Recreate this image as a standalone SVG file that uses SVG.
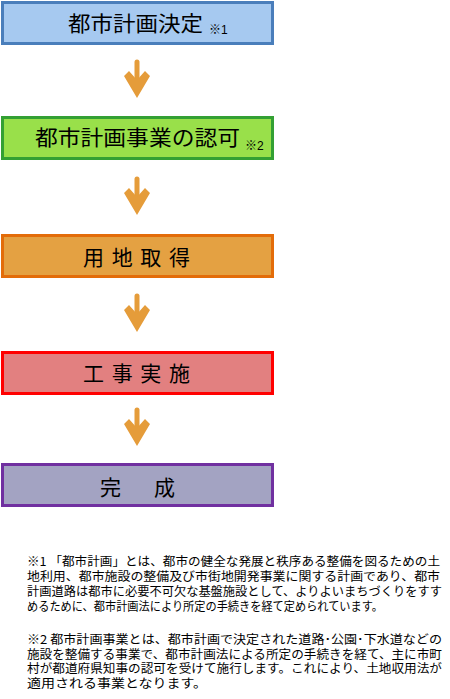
<svg xmlns="http://www.w3.org/2000/svg" width="450" height="699" viewBox="0 0 450 699">
<style>
.box{stroke-width:3}
.lbl{font-family:"Noto Sans CJK JP","Noto Sans",sans-serif;font-size:21px;fill:#000}
.sm{font-family:"Liberation Sans","Noto Sans CJK JP",sans-serif;font-size:12px;fill:#000}
.note{font-family:"Noto Sans CJK JP","Noto Sans",sans-serif;font-size:12px;fill:#000}
.shaft{stroke:#e59c3a;stroke-width:5;stroke-linecap:round;fill:none}
.head{fill:#e59c3a}
</style>
<defs>
<g id="arrow">
<line class="shaft" x1="137" y1="62" x2="137" y2="88"/>
<polygon class="head" points="124,76 129,71 137,80 145,71 150,76 137,98"/>
</g>
</defs>
<g id="connectors">
<use href="#arrow"/>
<use href="#arrow" transform="translate(0,117)"/>
<use href="#arrow" transform="translate(0,234)"/>
<use href="#arrow" transform="translate(0,348)"/>
</g>
<g id="node1">
<rect class="box" x="2.5" y="2.5" width="270" height="41" fill="#a6c9f0" stroke="#4a7ebb"/>
<text class="lbl" x="68" y="31" textLength="135" lengthAdjust="spacingAndGlyphs">都市計画決定</text>
<text class="sm" x="209" y="34">※1</text>
</g>
<g id="node2">
<rect class="box" x="2.5" y="117.5" width="270" height="41" fill="#99e04a" stroke="#33a033"/>
<text class="lbl" x="35" y="145" textLength="205" lengthAdjust="spacingAndGlyphs">都市計画事業の認可</text>
<text class="sm" x="245" y="150">※2</text>
</g>
<g id="node3">
<rect class="box" x="2.5" y="235.5" width="270" height="41" fill="#e4a142" stroke="#e36c09"/>
<text class="lbl" x="83" y="265" textLength="107" lengthAdjust="spacing">用 地 取 得</text>
</g>
<g id="node4">
<rect class="box" x="2.5" y="352.5" width="270" height="41" fill="#e28080" stroke="#ff0000"/>
<text class="lbl" x="83" y="381" textLength="107" lengthAdjust="spacing">工 事 実 施</text>
</g>
<g id="node5">
<rect class="box" x="2.5" y="464.5" width="270" height="41" fill="#a3a3c2" stroke="#7030a0"/>
<text class="lbl" x="100" y="495" textLength="75" lengthAdjust="spacing">完　成</text>
</g>
<g id="notes">
<text class="note" x="27" y="566" textLength="413" lengthAdjust="spacingAndGlyphs">※1 「都市計画」とは、都市の健全な発展と秩序ある整備を図るための土</text>
<text class="note" x="27" y="581" textLength="413" lengthAdjust="spacingAndGlyphs">地利用、都市施設の整備及び市街地開発事業に関する計画であり、都市</text>
<text class="note" x="27" y="596" textLength="415" lengthAdjust="spacingAndGlyphs">計画道路は都市に必要不可欠な基盤施設として、よりよいまちづくりをすす</text>
<text class="note" x="27" y="611" textLength="356" lengthAdjust="spacingAndGlyphs">めるために、都市計画法により所定の手続きを経て定められています。</text>
<text class="note" x="27" y="644" textLength="415" lengthAdjust="spacingAndGlyphs">※2  都市計画事業とは、都市計画で決定された道路･公園･下水道などの</text>
<text class="note" x="27" y="659" textLength="415" lengthAdjust="spacingAndGlyphs">施設を整備する事業で、都市計画法による所定の手続きを経て、主に市町</text>
<text class="note" x="27" y="673" textLength="415" lengthAdjust="spacingAndGlyphs">村が都道府県知事の認可を受けて施行します。これにより、土地収用法が</text>
<text class="note" x="27" y="688" textLength="180" lengthAdjust="spacingAndGlyphs">適用される事業となります。</text>
</g>
</svg>
